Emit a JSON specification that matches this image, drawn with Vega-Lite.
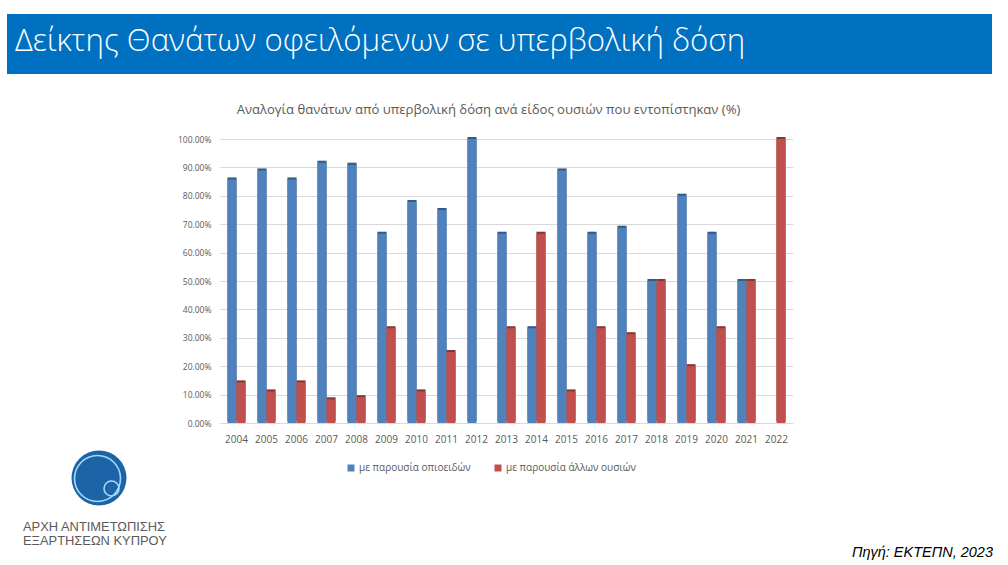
{
  "$schema": "https://vega.github.io/schema/vega-lite/v6.json",
  "background": "white",
  "padding": {"left": 7, "top": 14, "right": 0, "bottom": 0},
  "spacing": 65,
  "bounds": "flush",
  "config": {
    "view": {"stroke": null},
    "font": "Open Sans"
  },
  "datasets": {
    "rates": [
      {"year": "2004", "series": "με παρουσία οπιοειδών", "value": 0.8571},
      {"year": "2004", "series": "με παρουσία άλλων ουσιών", "value": 0.1429},
      {"year": "2005", "series": "με παρουσία οπιοειδών", "value": 0.8889},
      {"year": "2005", "series": "με παρουσία άλλων ουσιών", "value": 0.1111},
      {"year": "2006", "series": "με παρουσία οπιοειδών", "value": 0.8571},
      {"year": "2006", "series": "με παρουσία άλλων ουσιών", "value": 0.1429},
      {"year": "2007", "series": "με παρουσία οπιοειδών", "value": 0.9167},
      {"year": "2007", "series": "με παρουσία άλλων ουσιών", "value": 0.0833},
      {"year": "2008", "series": "με παρουσία οπιοειδών", "value": 0.9091},
      {"year": "2008", "series": "με παρουσία άλλων ουσιών", "value": 0.0909},
      {"year": "2009", "series": "με παρουσία οπιοειδών", "value": 0.6667},
      {"year": "2009", "series": "με παρουσία άλλων ουσιών", "value": 0.3333},
      {"year": "2010", "series": "με παρουσία οπιοειδών", "value": 0.7778},
      {"year": "2010", "series": "με παρουσία άλλων ουσιών", "value": 0.1111},
      {"year": "2011", "series": "με παρουσία οπιοειδών", "value": 0.75},
      {"year": "2011", "series": "με παρουσία άλλων ουσιών", "value": 0.25},
      {"year": "2012", "series": "με παρουσία οπιοειδών", "value": 1.0},
      {"year": "2012", "series": "με παρουσία άλλων ουσιών", "value": 0.0},
      {"year": "2013", "series": "με παρουσία οπιοειδών", "value": 0.6667},
      {"year": "2013", "series": "με παρουσία άλλων ουσιών", "value": 0.3333},
      {"year": "2014", "series": "με παρουσία οπιοειδών", "value": 0.3333},
      {"year": "2014", "series": "με παρουσία άλλων ουσιών", "value": 0.6667},
      {"year": "2015", "series": "με παρουσία οπιοειδών", "value": 0.8889},
      {"year": "2015", "series": "με παρουσία άλλων ουσιών", "value": 0.1111},
      {"year": "2016", "series": "με παρουσία οπιοειδών", "value": 0.6667},
      {"year": "2016", "series": "με παρουσία άλλων ουσιών", "value": 0.3333},
      {"year": "2017", "series": "με παρουσία οπιοειδών", "value": 0.6875},
      {"year": "2017", "series": "με παρουσία άλλων ουσιών", "value": 0.3125},
      {"year": "2018", "series": "με παρουσία οπιοειδών", "value": 0.5},
      {"year": "2018", "series": "με παρουσία άλλων ουσιών", "value": 0.5},
      {"year": "2019", "series": "με παρουσία οπιοειδών", "value": 0.8},
      {"year": "2019", "series": "με παρουσία άλλων ουσιών", "value": 0.2},
      {"year": "2020", "series": "με παρουσία οπιοειδών", "value": 0.6667},
      {"year": "2020", "series": "με παρουσία άλλων ουσιών", "value": 0.3333},
      {"year": "2021", "series": "με παρουσία οπιοειδών", "value": 0.5},
      {"year": "2021", "series": "με παρουσία άλλων ουσιών", "value": 0.5},
      {"year": "2022", "series": "με παρουσία οπιοειδών", "value": 0.0},
      {"year": "2022", "series": "με παρουσία άλλων ουσιών", "value": 1.0}
    ]
  },
  "vconcat": [
    {
      "width": 985,
      "height": 60,
      "view": {"fill": "#0070C0", "stroke": null},
      "data": {"values": [{}]},
      "mark": {"type": "text", "text": ""},
      "encoding": {},
      "title": {
        "text": "Δείκτης Θανάτων οφειλόμενων σε υπερβολική δόση",
        "anchor": "start",
        "frame": "group",
        "orient": "top",
        "offset": -43,
        "dx": 8,
        "fontSize": 31.2,
        "font": "Open Sans",
        "fontWeight": 300,
        "color": "white"
      }
    },
    {
      "hconcat": [
        {
          "width": 190,
          "height": 284,
          "data": {"values": [{}]},
          "layer": [
            {
              "mark": {"type": "point", "filled": true, "shape": "circle", "color": "#1B64A8", "opacity": 1, "size": 3025},
              "encoding": {
                "x": {"datum": 92, "type": "quantitative", "scale": {"domain": [0, 190], "nice": false, "zero": false}, "axis": null},
                "y": {"datum": 339, "type": "quantitative", "scale": {"domain": [0, 284], "nice": false, "zero": false, "reverse": true}, "axis": null}
              }
            },
            {
              "mark": {"type": "point", "filled": false, "shape": "circle", "color": "#A8D8F5", "strokeWidth": 1.6, "opacity": 1, "size": 2116},
              "encoding": {
                "x": {"datum": 90.5, "type": "quantitative", "scale": {"domain": [0, 190], "nice": false, "zero": false}, "axis": null},
                "y": {"datum": 339.5, "type": "quantitative", "scale": {"domain": [0, 284], "nice": false, "zero": false, "reverse": true}, "axis": null}
              }
            },
            {
              "mark": {"type": "point", "filled": false, "shape": "circle", "color": "#A8D8F5", "strokeWidth": 1.6, "opacity": 1, "size": 225},
              "encoding": {
                "x": {"datum": 104.5, "type": "quantitative", "scale": {"domain": [0, 190], "nice": false, "zero": false}, "axis": null},
                "y": {"datum": 349.5, "type": "quantitative", "scale": {"domain": [0, 284], "nice": false, "zero": false, "reverse": true}, "axis": null}
              }
            },
            {
              "mark": {"type": "text", "text": ["ΑΡΧΗ ΑΝΤΙΜΕΤΩΠΙΣΗΣ", "ΕΞΑΡΤΗΣΕΩΝ ΚΥΠΡΟΥ"], "align": "left", "baseline": "alphabetic", "lineHeight": 13.5, "fontSize": 12.9, "font": "Liberation Sans", "color": "#5A5A5A"},
              "encoding": {
                "x": {"datum": 16, "type": "quantitative", "scale": {"domain": [0, 190], "nice": false, "zero": false}, "axis": null},
                "y": {"datum": 392, "type": "quantitative", "scale": {"domain": [0, 284], "nice": false, "zero": false, "reverse": true}, "axis": null}
              }
            },
            {
              "mark": {"type": "text", "text": "Πηγή: ΕΚΤΕΠΝ, 2023", "align": "right", "baseline": "alphabetic", "fontSize": 14.5, "fontStyle": "italic", "font": "Liberation Sans", "color": "#000000"},
              "encoding": {
                "x": {"datum": 986, "type": "quantitative", "scale": {"domain": [0, 190], "nice": false, "zero": false}, "axis": null},
                "y": {"datum": 418, "type": "quantitative", "scale": {"domain": [0, 284], "nice": false, "zero": false, "reverse": true}, "axis": null}
              }
            }
          ]
        },
        {
          "width": 573,
          "height": 284,
          "title": {
            "text": "Αναλογία θανάτων από υπερβολική δόση ανά είδος ουσιών που εντοπίστηκαν (%)",
            "anchor": "middle",
            "frame": "group",
            "offset": 18,
            "dx": -18,
            "fontSize": 13.1,
            "fontWeight": "normal",
            "font": "Open Sans",
            "color": "#595959"
          },
          "data": {"name": "rates"},
          "encoding": {
            "x": {
              "field": "year", "type": "ordinal",
              "scale": {"paddingInner": 0.4, "paddingOuter": 0.25},
              "axis": {"title": null, "labelAngle": 0, "domain": false, "ticks": false, "labelFontSize": 10, "labelPadding": 11, "labelColor": "#595959", "labelFont": "Open Sans"}
            },
            "xOffset": {"field": "series", "type": "nominal", "sort": ["με παρουσία οπιοειδών", "με παρουσία άλλων ουσιών"]},
            "y": {
              "field": "value", "type": "quantitative",
              "scale": {"domain": [0, 1], "nice": false},
              "axis": {"title": null, "format": ".2%", "values": [0, 0.1, 0.2, 0.3, 0.4, 0.5, 0.6, 0.7, 0.8, 0.9, 1.0], "domain": false, "ticks": false, "labelFontSize": 8.5, "labelPadding": 9, "labelColor": "#595959", "labelFont": "Open Sans", "gridColor": "#D9D9D9", "gridWidth": 1}
            },
            "color": {
              "field": "series", "type": "nominal",
              "scale": {"domain": ["με παρουσία οπιοειδών", "με παρουσία άλλων ουσιών"], "range": ["#4F81BD", "#C0504D"]},
              "legend": {"orient": "none", "legendX": 339, "legendY": 449, "direction": "horizontal", "title": null, "symbolType": "square", "symbolSize": 49, "symbolStrokeWidth": 0, "labelFontSize": 10, "labelColor": "#595959", "labelFont": "Open Sans", "columnPadding": 22, "labelOffset": 3}
            }
          },
          "layer": [
            {
              "mark": {"type": "bar", "xOffset": 3, "yOffset": -2}
            },
            {
              "mark": {"type": "bar", "xOffset": 3, "yOffset": -2, "color": "#000000", "opacity": 0.3},
              "encoding": {"color": {"value": "#000000"}}
            },
            {
              "mark": {"type": "bar"}
            }
          ]
        }
      ],
      "spacing": 23,
      "bounds": "flush"
    }
  ]
}
